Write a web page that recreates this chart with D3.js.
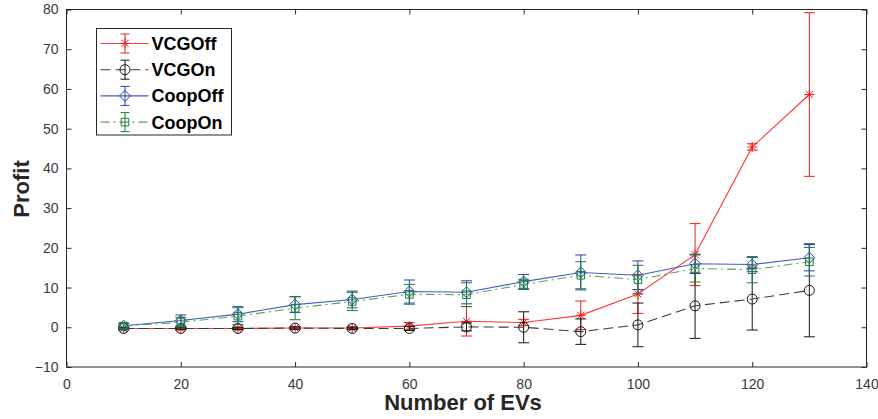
<!DOCTYPE html>
<html>
<head>
<meta charset="utf-8">
<script src="https://cdn.jsdelivr.net/npm/d3@7"></script>
<style>
  html, body { margin: 0; padding: 0; background: #fff; }
  svg { display: block; }
  text { font-family: "Liberation Sans", Arial, Helvetica, sans-serif; }
</style>
</head>
<body>
<svg id="chart" width="878" height="419"></svg>
<script>
// ---- data ----
const evCounts = [10, 20, 30, 40, 50, 60, 70, 80, 90, 100, 110, 120, 130];
const vcgOff    = [-0.3, -0.3, -0.3, -0.2, -0.2, 0.3, 1.5, 1.2, 3.0, 8.4, 18.3, 45.4, 58.6];
const vcgOffErr = [0.3, 0.3, 0.3, 0.3, 0.3, 0.9, 3.7, 0.8, 3.6, 4.9, 7.8, 0.8, 20.6];
const vcgOn     = [-0.3, -0.3, -0.3, -0.2, -0.3, -0.3, 0.1, 0.0, -1.1, 0.6, 5.4, 7.1, 9.3];
const vcgOnErr  = [0.3, 0.3, 0.3, 0.3, 0.3, 0.5, 1.0, 3.9, 3.2, 5.5, 8.2, 7.8, 11.7];
const coopOff    = [0.4, 1.7, 3.3, 5.7, 7.0, 9.0, 8.8, 11.5, 13.8, 13.1, 16.0, 15.8, 17.5];
const coopOffErr = [0.6, 1.4, 1.9, 2.0, 2.1, 2.9, 2.9, 1.8, 4.4, 3.6, 2.4, 1.8, 3.3];
const coopOn     = [0.3, 1.3, 2.8, 4.8, 6.5, 8.3, 8.2, 10.8, 13.1, 12.0, 14.8, 14.5, 16.5];
const coopOnErr  = [0.7, 1.2, 2.1, 2.9, 2.3, 2.5, 3.0, 1.3, 3.4, 3.6, 3.4, 3.3, 3.6];
const seriesNames = ["VCGOff", "VCGOn", "CoopOff", "CoopOn"];
const xTicks = [0, 20, 40, 60, 80, 100, 120, 140];
const yTicks = [-10, 0, 10, 20, 30, 40, 50, 60, 70, 80];
const xLabel = "Number of EVs";
const yLabel = "Profit";

// ---- styles ----
const styles = [
  { line: "#ff3a3a", bar: "#f02020", dash: null,        marker: "star" },
  { line: "#3a3a3a", bar: "#151515", dash: "10,5",      marker: "circle" },
  { line: "#4a5cc4", bar: "#2a40b4", dash: null,        marker: "diamond" },
  { line: "#4cae4c", bar: "#1b7d3a", dash: "9,4,2,4",   marker: "square" }
];
const values = [vcgOff, vcgOn, coopOff, coopOn];
const errs = [vcgOffErr, vcgOnErr, coopOffErr, coopOnErr];

const svg = d3.select("#chart");
const L = 66.5, R = 866.5, T = 9.5, B = 367;
const x = d3.scaleLinear().domain([0, 140]).range([L, R]);
const y = d3.scaleLinear().domain([-10, 80]).range([B, T]);
const axisColor = "#262626";

function markerPath(type, cx, cy) {
  const p = d3.path();
  if (type === "star") {
    const s = 5, d = 3.6;
    p.moveTo(cx - s, cy); p.lineTo(cx + s, cy);
    p.moveTo(cx, cy - s); p.lineTo(cx, cy + s);
    p.moveTo(cx - d, cy - d); p.lineTo(cx + d, cy + d);
    p.moveTo(cx - d, cy + d); p.lineTo(cx + d, cy - d);
  } else if (type === "circle") {
    p.moveTo(cx + 5, cy); p.arc(cx, cy, 5, 0, 2 * Math.PI);
  } else if (type === "diamond") {
    const s = 5.5;
    p.moveTo(cx, cy - s); p.lineTo(cx + s, cy); p.lineTo(cx, cy + s); p.lineTo(cx - s, cy); p.closePath();
  } else if (type === "square") {
    const s = 3.8;
    p.rect(cx - s, cy - s, 2 * s, 2 * s);
  }
  return p.toString();
}

// axes
const gx = svg.append("g").attr("transform", `translate(0,${B})`)
  .call(d3.axisBottom(x).tickValues(xTicks).tickSize(-5).tickPadding(12).tickFormat(d3.format("d")));
const gy = svg.append("g").attr("transform", `translate(${L},0)`)
  .call(d3.axisLeft(y).tickValues(yTicks).tickSize(-5).tickPadding(8).tickFormat(d3.format("d")));
const gxt = svg.append("g").attr("transform", `translate(0,${T})`)
  .call(d3.axisTop(x).tickValues(xTicks).tickSize(-5).tickFormat(""));
const gyr = svg.append("g").attr("transform", `translate(${R},0)`)
  .call(d3.axisRight(y).tickValues(yTicks).tickSize(-5).tickFormat(""));
[gx, gy, gxt, gyr].forEach(g => {
  g.select(".domain").remove();
  g.selectAll(".tick line").attr("stroke", axisColor).attr("stroke-width", 1);
  g.selectAll(".tick text").attr("fill", "#3a3a3a").style("font-size", "14px")
    .style("font-family", "'Liberation Sans', Arial, sans-serif");
});
svg.append("rect").attr("x", L).attr("y", T).attr("width", R - L).attr("height", B - T)
  .attr("fill", "none").attr("stroke", axisColor).attr("stroke-width", 1);

// series
const plot = svg.append("g");
values.forEach((vals, si) => {
  const st = styles[si];
  const g = plot.append("g");
  const pts = evCounts.map((xv, i) => ({ x: xv, v: vals[i], e: errs[si][i] }));
  // error bars
  g.selectAll("path.eb").data(pts).enter().append("path")
    .attr("d", d => {
      const p = d3.path();
      const cx = x(d.x), y1 = y(d.v + d.e), y0 = y(d.v - d.e), c = 5.5;
      p.moveTo(cx, y1); p.lineTo(cx, y0);
      p.moveTo(cx - c, y1); p.lineTo(cx + c, y1);
      p.moveTo(cx - c, y0); p.lineTo(cx + c, y0);
      return p.toString();
    })
    .attr("fill", "none").attr("stroke", st.bar).attr("stroke-width", 1);
  // line
  const line = d3.line().x(d => x(d.x)).y(d => y(d.v));
  g.append("path").datum(pts).attr("d", line).attr("fill", "none")
    .attr("stroke", st.line).attr("stroke-width", 1.1)
    .attr("stroke-dasharray", st.dash);
  // markers
  g.selectAll("path.mk").data(pts).enter().append("path")
    .attr("d", d => markerPath(st.marker, x(d.x), y(d.v)))
    .attr("fill", "none").attr("stroke", st.bar).attr("stroke-width", 1);
});

// axis labels
svg.append("text").attr("x", 463).attr("y", 410).attr("text-anchor", "middle")
  .style("font-size", "22px").style("font-weight", "bold").attr("fill", "#262626").text(xLabel);
svg.append("text").attr("transform", "translate(29,189) rotate(-90)").attr("text-anchor", "middle")
  .style("font-size", "22px").style("font-weight", "bold").attr("fill", "#262626").text(yLabel);

// legend
const lg = svg.append("g");
lg.append("rect").attr("x", 96.5).attr("y", 28.5).attr("width", 135).attr("height", 106.5)
  .attr("fill", "#fff").attr("stroke", axisColor).attr("stroke-width", 1);
seriesNames.forEach((name, i) => {
  const st = styles[i];
  const cy = 43.5 + i * 26.2;
  const g = lg.append("g");
  g.append("line").attr("x1", 100.5).attr("x2", 148.5).attr("y1", cy).attr("y2", cy)
    .attr("stroke", st.line).attr("stroke-width", 1.1).attr("stroke-dasharray", st.dash);
  const p = d3.path(); const cx = 125, h = 9.5, c = 4.5;
  p.moveTo(cx, cy - h); p.lineTo(cx, cy + h);
  p.moveTo(cx - c, cy - h); p.lineTo(cx + c, cy - h);
  p.moveTo(cx - c, cy + h); p.lineTo(cx + c, cy + h);
  g.append("path").attr("d", p.toString()).attr("fill", "none").attr("stroke", st.bar).attr("stroke-width", 1);
  g.append("path").attr("d", markerPath(st.marker, cx, cy)).attr("fill", "none")
    .attr("stroke", st.bar).attr("stroke-width", 1);
  g.append("text").attr("x", 151.5).attr("y", cy + 6.5)
    .style("font-size", "18px").style("font-weight", "bold").attr("fill", "#000").text(name);
});
</script>
</body>
</html>
